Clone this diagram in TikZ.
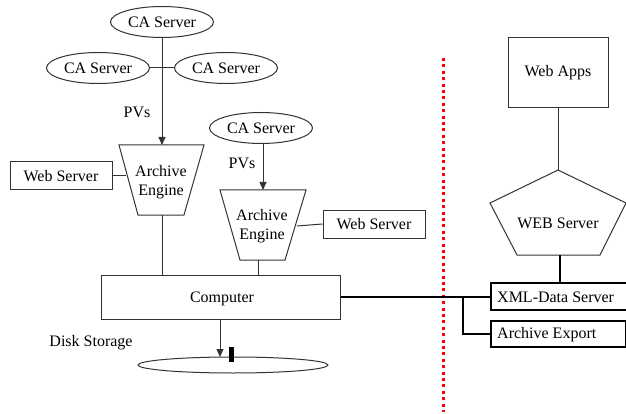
\documentclass[tikz,border=0pt]{standalone}
\usepackage{fontspec}
\setmainfont{Liberation Serif}
\usetikzlibrary{arrows.meta,shapes.geometric}
\begin{document}
\begin{tikzpicture}[x=1pt,y=-1pt,
  font=\fontsize{16}{19}\selectfont,
  thin line/.style={line width=1pt,draw=black!80},
  thick line/.style={line width=2.8pt,draw=black},
  ca/.style={ellipse,thin line,minimum width=103pt,minimum height=31pt,inner sep=0pt},
  box/.style={rectangle,thin line,inner sep=0pt},
  tbox/.style={rectangle,line width=2pt,draw=black,inner sep=0pt},
  arr/.style={thin line,-{Triangle[length=8pt,width=7pt]}},
  lbl/.style={inner sep=0pt}]
\useasboundingbox (0,0) rectangle (626,414);

% EPICS channel access servers
\node[ca] (ca1) at (162,22) {CA Server};
\node[ca] (ca2) at (98,68) {CA Server};
\node[ca] (ca3) at (226,68) {CA Server};
\node[ca] (ca4) at (261,128) {CA Server};

% archive engines (trapezoids)
\coordinate (e1a) at (119,145); \coordinate (e1b) at (204,145);
\coordinate (e1c) at (184,215); \coordinate (e1d) at (138,215);
\draw[thin line] (e1a) -- (e1b) -- (e1c) -- (e1d) -- cycle;
\node[lbl,align=center] (eng1) at (161,182) {Archive\\Engine};
\coordinate (e1top) at (162,145);
\coordinate (e1bot) at (162,215);
\coordinate (e1left) at (126,176);

\coordinate (e2a) at (220,190); \coordinate (e2b) at (306,190);
\coordinate (e2c) at (285,260); \coordinate (e2d) at (240,260);
\draw[thin line] (e2a) -- (e2b) -- (e2c) -- (e2d) -- cycle;
\node[lbl,align=center] (eng2) at (262,226) {Archive\\Engine};
\coordinate (e2top) at (263,190);
\coordinate (e2bot) at (258,260);
\coordinate (e2right) at (297,226);

% web servers beside the engines
\node[box,minimum width=102pt,minimum height=28pt] (ws1) at (61,176) {Web Server};
\node[box,minimum width=102pt,minimum height=28pt] (ws2) at (374,224) {Web Server};

% host computer
\node[box,minimum width=239pt,minimum height=44pt] (comp) at (220.5,297) {};
\node[lbl] (complbl) at (222,299) {Computer};

% disk
\node[ellipse,thin line,minimum width=190pt,minimum height=16pt,inner sep=0pt] (disk) at (233,365) {};
\node[lbl] (disklbl) at (91,343) {Disk Storage};
\fill[black] (228.5,347) rectangle (233.5,362);

% PV connections
\draw[thin line] (ca2.east) -- (ca3.west);
\draw[arr] (ca1.south) -- (e1top);
\node[lbl] (pv1) at (137,112) {PVs};
\draw[arr] (ca4.south -| e2top) -- (e2top);
\node[lbl] (pv2) at (242,163) {PVs};

\draw[thin line] (ws1.east) -- (e1left);
\draw[thin line] (e2right) -- (ws2.west);
\draw[thin line] (e1bot) -- (e1bot |- comp.north);
\draw[thin line] (e2bot) -- (e2bot |- comp.north);
\coordinate (dtop) at (220,357);
\draw[arr] (comp.south -| dtop) -- (dtop);

% separator
\draw[red,line width=3pt,dash pattern=on 3pt off 3.4pt] (443,58) -- (443,412);

% web side
\node[box,minimum width=100pt,minimum height=70pt] (apps) at (558,73) {Web Apps};
\coordinate (p1) at (558,170); \coordinate (p2) at (626,203);
\coordinate (p3) at (600,255); \coordinate (p4) at (517,255);
\coordinate (p5) at (490,203);
\draw[thin line] (p1) -- (p2) -- (p3) -- (p4) -- (p5) -- cycle;
\node[lbl] (websrv) at (558,223) {WEB Server};
\draw[thin line] (apps.south) -- (p1);

\node[tbox,minimum width=140pt,minimum height=27pt,anchor=west] (xml) at (490,296.5) {};
\node[lbl,anchor=west] (xmllbl) at (497,297) {XML-Data Server};
\node[tbox,minimum width=135pt,minimum height=26pt,anchor=west] (exp) at (490,334) {};
\node[lbl,anchor=west] (explbl) at (497,334.5) {Archive Export};
\draw[thick line] (560,255) -- (xml.north -| 560,0);

\coordinate (br) at (463,297);
\draw[thick line] (comp.east |- br) -- (xml.west |- br);
\draw[thick line] (br) |- (exp.west);
\end{tikzpicture}
\end{document}
